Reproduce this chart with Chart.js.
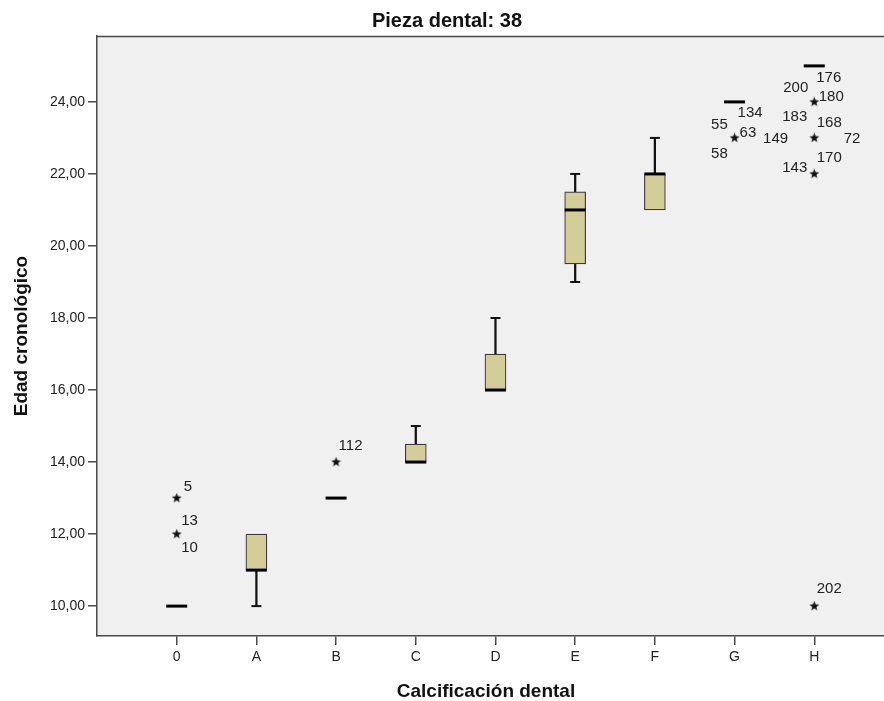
<!DOCTYPE html>
<html>
<head>
<meta charset="utf-8">
<script src="https://cdn.jsdelivr.net/npm/chart.js@4.4.1/dist/chart.umd.min.js"></script>
<style>
  html, body { margin: 0; padding: 0; background: #ffffff; overflow: hidden; }
  #wrap { width: 884px; height: 701px; position: relative; }
</style>
</head>
<body>
<div id="wrap"><canvas id="c" width="884" height="701"></canvas></div>
<script>
// ---------------- DATA ----------------
const categories = ['0', 'A', 'B', 'C', 'D', 'E', 'F', 'G', 'H'];
const whiskerLow  = [10, 10, 13, 14,   16, 19,   21, 24, 25];
const q1          = [10, 11, 13, 14,   16, 19.5, 21, 24, 25];
const median      = [10, 11, 13, 14,   16, 21,   22, 24, 25];
const q3          = [10, 12, 13, 14.5, 17, 21.5, 22, 24, 25];
const whiskerHigh = [10, 12, 13, 15,   18, 22,   23, 24, 25];

// extreme cases (stars): category index, value, case numbers
const extremeCat   = [0, 0, 2, 7, 8, 8, 8, 8];
const extremeValue = [13, 12, 14, 23, 24, 23, 22, 10];
const extremeCases = [['5'], ['13', '10'], ['112'], ['55', '63', '58', '134', '149'],
                      ['200', '180', '176'], ['183', '168', '72'], ['170', '143'], ['202']];

const yTicks = [10, 12, 14, 16, 18, 20, 22, 24];

const titleText  = 'Pieza dental: 38';
const xTitleText = 'Calcificación dental';
const yTitleText = 'Edad cronológico';

// ---------------- STYLE / LAYOUT (label offsets in pixels) ----------------
const labelOffsets = {
  '5': [7, -11], '13': [4.5, -13.5], '10': [4.5, 14], '112': [2.5, -16],
  '55': [-23.5, -13.5], '63': [5, -5], '58': [-23.5, 15.5], '134': [3, -25.5], '149': [28.5, 0.5],
  '200': [-31, -14], '180': [4.5, -5.5], '176': [2, -24.5],
  '183': [-32, -21], '168': [2.5, -15.5], '72': [29.5, 0.5],
  '170': [2.5, -16.5], '143': [-32, -6.5],
  '202': [2.5, -17.5]
};

const BOX_FILL = '#D3CE97';
const AXIS_COLOR = '#4a4a4a';
const FONT = '"Liberation Sans", Arial, sans-serif';

// star point image
function makeStar(size) {
  const cv = document.createElement('canvas');
  cv.width = size; cv.height = size;
  const g = cv.getContext('2d');
  const cx = size / 2, cy = size / 2, R = size / 2 - 0.3, r = R * 0.42;
  g.beginPath();
  for (let i = 0; i < 10; i++) {
    const ang = -Math.PI / 2 + i * Math.PI / 5;
    const rad = i % 2 === 0 ? R : r;
    const px = cx + rad * Math.cos(ang), py = cy + rad * Math.sin(ang);
    if (i === 0) g.moveTo(px, py); else g.lineTo(px, py);
  }
  g.closePath();
  g.fillStyle = '#111';
  g.fill();
  return cv;
}
const starImg = makeStar(11);

// ---------------- DATASETS ----------------
const idx = categories.map((_, i) => i);

const boxData = idx.map(i => ({ x: i, y: q3[i] > q1[i] ? [q1[i], q3[i]] : null }));
const upperWhisker = idx.map(i => ({ x: i, y: whiskerHigh[i] > q3[i] ? [q3[i], whiskerHigh[i]] : null }));
const lowerWhisker = idx.map(i => ({ x: i, y: whiskerLow[i] < q1[i] ? [whiskerLow[i], q1[i]] : null }));
const capData = [];
idx.forEach(i => {
  if (whiskerHigh[i] > q3[i]) capData.push({ x: i, y: whiskerHigh[i] });
  if (whiskerLow[i] < q1[i]) capData.push({ x: i, y: whiskerLow[i] });
});
const medianData = idx.map(i => ({ x: i, y: median[i] }));
const starData = extremeCat.map((c, k) => ({ x: c, y: extremeValue[k] }));

// ---------------- PLUGINS ----------------
const decor = {
  id: 'decor',
  beforeDraw(chart) {
    const { ctx, chartArea: a } = chart;
    ctx.save();
    ctx.fillStyle = '#F0F0F0';
    ctx.fillRect(a.left, a.top, a.right - a.left, a.bottom - a.top);
    ctx.restore();
  },
  afterDraw(chart) {
    const { ctx, chartArea: a } = chart;
    ctx.save();
    // top frame line
    ctx.strokeStyle = AXIS_COLOR;
    ctx.lineWidth = 1.5;
    ctx.beginPath();
    ctx.moveTo(a.left, a.top + 0.5);
    ctx.lineTo(a.right, a.top + 0.5);
    ctx.stroke();
    // titles
    ctx.fillStyle = '#111';
    ctx.textAlign = 'center';
    ctx.textBaseline = 'middle';
    ctx.font = 'bold 20px ' + FONT;
    ctx.fillText(titleText, 447, 21);
    ctx.font = 'bold 19px ' + FONT;
    ctx.fillText(xTitleText, 486, 692);
    ctx.save();
    ctx.translate(22, (a.top + a.bottom) / 2);
    ctx.rotate(-Math.PI / 2);
    ctx.fillText(yTitleText, 0, 0);
    ctx.restore();
    // case labels for extremes
    const xs = chart.scales.x, ys = chart.scales.y;
    ctx.font = '15px ' + FONT;
    ctx.textAlign = 'left';
    ctx.fillStyle = '#222';
    extremeCat.forEach((c, k) => {
      const px = xs.getPixelForValue(c), py = ys.getPixelForValue(extremeValue[k]);
      extremeCases[k].forEach(lbl => {
        const off = labelOffsets[lbl] || [4, -12];
        ctx.fillText(lbl, px + off[0], py + off[1]);
      });
    });
    ctx.restore();
  }
};

// ---------------- CHART ----------------
new Chart(document.getElementById('c'), {
  type: 'bar',
  data: {
    datasets: [
      { type: 'bar', data: upperWhisker, backgroundColor: '#111', borderWidth: 0, barThickness: 1.6, grouped: false, order: 4 },
      { type: 'bar', data: lowerWhisker, backgroundColor: '#111', borderWidth: 0, barThickness: 1.6, grouped: false, order: 4 },
      { type: 'bar', data: boxData, backgroundColor: BOX_FILL, borderColor: '#3c3c3c', borderWidth: 1.2, borderSkipped: false, barThickness: 21, grouped: false, order: 3 },
      { type: 'scatter', data: capData, pointStyle: 'line', radius: 5, borderColor: '#111', borderWidth: 2, order: 2 },
      { type: 'scatter', data: medianData, pointStyle: 'line', radius: 10.5, borderColor: '#000', borderWidth: 3, order: 1 },
      { type: 'scatter', data: starData, pointStyle: starImg, radius: 5, order: 0 }
    ]
  },
  options: {
    responsive: false,
    animation: false,
    events: [],
    layout: { autoPadding: false, padding: { top: 36, left: 0, right: 0, bottom: 0 } },
    plugins: { legend: { display: false }, tooltip: { enabled: false }, title: { display: false } },
    scales: {
      x: {
        type: 'linear',
        min: -1,
        max: 8.875,
        offset: false,
        afterFit(s) { s.height = 65; s.paddingLeft = 0; s.paddingRight = 0; },
        afterBuildTicks(s) { s.ticks = categories.map((_, i) => ({ value: i })); },
        ticks: {
          callback: v => categories[v],
          font: { size: 14, family: FONT },
          color: '#222',
          padding: 4,
          maxRotation: 0,
          autoSkip: false
        },
        grid: { offset: false, drawOnChartArea: false, drawTicks: true, tickLength: 9, color: AXIS_COLOR, lineWidth: 1.5 },
        border: { display: true, color: AXIS_COLOR, width: 1.5 }
      },
      y: {
        type: 'linear',
        min: 9.17,
        max: 25.83,
        afterFit(s) { s.width = 97; },
        afterBuildTicks(s) { s.ticks = yTicks.map(v => ({ value: v })); },
        ticks: {
          callback: v => v.toFixed(2).replace('.', ','),
          font: { size: 14, family: FONT },
          color: '#222',
          padding: 3
        },
        grid: { drawOnChartArea: false, drawTicks: true, tickLength: 9, color: AXIS_COLOR, lineWidth: 1.5 },
        border: { display: true, color: AXIS_COLOR, width: 1.5 }
      }
    }
  },
  plugins: [decor]
});
</script>
</body>
</html>
